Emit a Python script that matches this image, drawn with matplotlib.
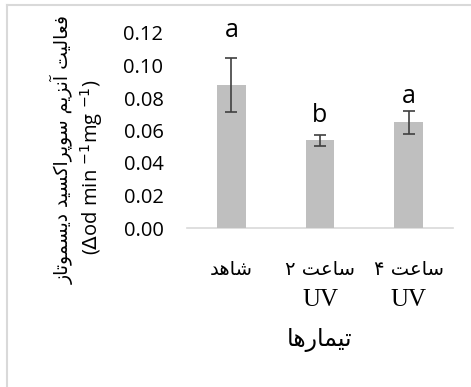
import matplotlib.pyplot as plt
from matplotlib.lines import Line2D
from matplotlib.transforms import blended_transform_factory
import numpy as np

# data
groups = ["شاهد", "ساعت ۲", "ساعت ۴"]
groups_line2 = ["", "UV", "UV"]
means = [0.088, 0.054, 0.065]
errors = [0.0165, 0.0035, 0.0073]
letters = ["a", "b", "a"]
yticks = [0.00, 0.02, 0.04, 0.06, 0.08, 0.10, 0.12]
ylabel_fa = "فعالیت آنزیم سوپراکسید دیسموتاز"
ylabel_unit = r"($\Delta$od min $^{-1}$mg $^{-1}$)"
xlabel_fa = "تیمارها"

# simple persian shaping (matplotlib does no arabic shaping)
# letter: (isolated, final, initial, medial) ; None -> does not join to next
FORMS = {
    "ا": ("\uFE8D", "\uFE8E", None, None),
    "آ": ("\uFE81", "\uFE82", None, None),
    "ت": ("\uFE95", "\uFE96", "\uFE97", "\uFE98"),
    "د": ("\uFEA9", "\uFEAA", None, None),
    "ر": ("\uFEAD", "\uFEAE", None, None),
    "ز": ("\uFEAF", "\uFEB0", None, None),
    "س": ("\uFEB1", "\uFEB2", "\uFEB3", "\uFEB4"),
    "ش": ("\uFEB5", "\uFEB6", "\uFEB7", "\uFEB8"),
    "ع": ("\uFEC9", "\uFECA", "\uFECB", "\uFECC"),
    "ف": ("\uFED1", "\uFED2", "\uFED3", "\uFED4"),
    "ل": ("\uFEDD", "\uFEDE", "\uFEDF", "\uFEE0"),
    "م": ("\uFEE1", "\uFEE2", "\uFEE3", "\uFEE4"),
    "ن": ("\uFEE5", "\uFEE6", "\uFEE7", "\uFEE8"),
    "ه": ("\uFEE9", "\uFEEA", "\uFEEB", "\uFEEC"),
    "و": ("\uFEED", "\uFEEE", None, None),
    "پ": ("\uFB56", "\uFB57", "\uFB58", "\uFB59"),
    "ک": ("\uFB8E", "\uFB8F", "\uFB90", "\uFB91"),
    "ی": ("\uFBFC", "\uFBFD", "\uFBFE", "\uFBFF"),
}


def shape(text):
    res = []
    for i, ch in enumerate(text):
        if ch not in FORMS:
            res.append(ch)
            continue
        prev = text[i - 1] if i > 0 else ""
        nxt = text[i + 1] if i + 1 < len(text) else ""
        join_prev = prev in FORMS and FORMS[prev][2] is not None
        join_next = nxt in FORMS and FORMS[ch][2] is not None
        iso, fin, ini, med = FORMS[ch]
        if join_prev and join_next:
            res.append(med)
        elif join_prev:
            res.append(fin)
        elif join_next:
            res.append(ini)
        else:
            res.append(iso)
    return "".join(res)[::-1]


fig = plt.figure(figsize=(4.71, 3.87), dpi=100)
ax = fig.add_axes([187 / 471, 1 - 228 / 387, 266 / 471, 195 / 387])

x = np.arange(len(groups))
ax.bar(x, means, width=0.32, color="#bfbfbf", zorder=2)
ax.errorbar(x, means, yerr=errors, fmt="none", ecolor="#404040",
            elinewidth=1.2, capsize=4, capthick=1.2, zorder=3)

label_y = [0.1215, 0.069, 0.081]
for xi, lt, ly in zip(x, letters, label_y):
    ax.text(xi, ly, lt, ha="center", va="center", fontsize=18,
            family="Open Sans", color="black")

ax.set_xlim(-0.5, 2.5)
ax.set_ylim(0, 0.12)
ax.set_yticks(yticks)
ax.set_yticklabels([f"{v:.2f}" for v in yticks], family="Open Sans",
                   fontsize=14.5)
ax.set_xticks(x)
ax.set_xticklabels([shape(g) for g in groups], family="DejaVu Sans",
                   fontsize=14)
ax.tick_params(axis="y", length=0, pad=17)
ax.tick_params(axis="x", length=0, pad=23)

# second line of the tick labels
trans = blended_transform_factory(ax.transData, ax.transAxes)
for xi, s in zip(x, groups_line2):
    ax.text(xi, -72 / 195, s, transform=trans, ha="center", va="center",
            fontsize=18, family="Liberation Serif")

for side in ["left", "right", "top"]:
    ax.spines[side].set_visible(False)
ax.spines["bottom"].set_color("#d9d9d9")
ax.spines["bottom"].set_linewidth(1.2)
ax.spines["bottom"].set_zorder(1)

fig.text(320 / 471, 1 - 340 / 387, shape(xlabel_fa), ha="center",
         va="center", fontsize=17, family="DejaVu Sans")
fig.text(62 / 471, 1 - 150 / 387, shape(ylabel_fa), ha="center",
         va="center", rotation=90, fontsize=13.5, family="DejaVu Sans")
fig.text(92 / 471, 1 - 167 / 387, ylabel_unit, ha="center", va="center",
         rotation=90, fontsize=14.5, family="Open Sans")

# light frame at top and left edges
fig.add_artist(Line2D([7 / 471, 1], [1 - 5 / 387, 1 - 5 / 387],
                      transform=fig.transFigure, color="#d9d9d9", lw=1.5))
fig.add_artist(Line2D([7 / 471, 7 / 471], [0, 1 - 5 / 387],
                      transform=fig.transFigure, color="#d9d9d9", lw=1.5))

fig.savefig("out.png", dpi=100)
